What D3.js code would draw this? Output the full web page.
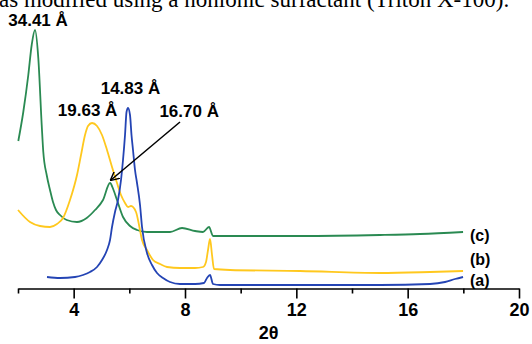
<!DOCTYPE html>
<html>
<head>
<meta charset="utf-8">
<script src="https://cdn.jsdelivr.net/npm/d3@7"></script>
<style>
  html, body { margin: 0; padding: 0; background: #fff; overflow: hidden; }
  svg { display: block; }
</style>
</head>
<body>
<svg id="chart" width="532" height="344"></svg>
<script>
// ---- data (2θ in degrees, intensity in arbitrary units) ----
const angleC = [2.011,2.190,2.370,2.492,2.611,2.729,2.852,2.909,3.031,3.150,3.258,3.365,3.509,3.750,4.120,4.469,4.767,5.054,5.306,5.432,5.557,5.773,6.024,6.276,6.635,7.462,7.893,8.360,8.647,8.863,9.007,10.337,12.133,15.007,16.445,17.990];
const intenC = [148,177,214,244,259,231,164,137,114,99,87,79,74,69,67,71,79,89,106,99,89,72,63,59,57,57,61,58,57,62,53,53,53,54,55,57];

const angleB = [2.000,2.431,2.790,3.150,3.401,3.617,3.868,4.120,4.264,4.408,4.515,4.659,4.839,5.018,5.198,5.378,5.557,5.701,5.845,5.953,6.060,6.240,6.348,6.456,6.635,6.851,7.102,7.354,7.821,8.360,8.647,8.755,8.827,8.899,8.971,9.043,9.618,12.133,15.007,16.804,17.990];
const intenB = [79,67,63,62,65,71,89,114,134,154,163,166,163,154,139,122,106,94,86,82,83,77,64,49,39,29,25,22,21,21,22,27,39,50,34,20,19,18,16,17,18];

const angleA = [3.042,3.509,4.048,4.336,4.587,4.839,5.018,5.198,5.306,5.378,5.485,5.593,5.701,5.773,5.845,5.899,5.953,6.024,6.078,6.132,6.204,6.276,6.384,6.456,6.635,6.815,6.995,7.210,7.462,7.821,8.360,8.683,8.791,8.899,9.007,9.259,12.133,15.007,16.804,17.343,17.702,17.990];
const intenA = [12,11,12,14,17,22,29,39,49,62,77,89,109,129,154,177,181,174,154,139,119,106,84,62,36,24,16,11,7,5,5,6,11,14,5,4,4,4,5,7,10,12];

const seriesNames = ["(a)", "(b)", "(c)"];
const seriesColors = ["#2444b4", "#ffc81e", "#2a8a52"];

const xTicks = [2,4,6,8,10,12,14,16,18,20];
const xTickLabels = ["", "4", "", "8", "", "12", "", "16", "", "20"];

const peakLabels = ["34.41 Å", "19.63 Å", "14.83 Å", "16.70 Å"];
const peakAngle  = [2.72, 4.50, 6.04, 8.15];
const peakInten  = [263, 173, 195, 172];

const arrowFrom = [7.82, 167];
const arrowTo   = [5.34, 109];

const captionText = "as modified using a nonionic surfactant (Triton X-100).";

// ---- scales ----
const svg = d3.select("#chart");
const x = d3.scaleLinear().domain([2, 20]).range([18, 519]);
const y = d3.scaleLinear().domain([0, 260]).range([289, 29]);

const font = "'Liberation Sans', Arial, sans-serif";

// caption (cut off at top, as in the source)
svg.append("text")
  .attr("x", -1).attr("y", 7)
  .attr("font-family", "'Liberation Serif', 'Times New Roman', serif")
  .attr("font-size", 23)
  .attr("fill", "#000")
  .text(captionText);

// curves
const line = d3.line()
  .x(d => x(d[0])).y(d => y(d[1]))
  .curve(d3.curveMonotoneX);

const series = [
  { name: seriesNames[2], color: seriesColors[2], pts: d3.zip(angleC, intenC) },
  { name: seriesNames[1], color: seriesColors[1], pts: d3.zip(angleB, intenB) },
  { name: seriesNames[0], color: seriesColors[0], pts: d3.zip(angleA, intenA) }
];

svg.append("g").selectAll("path").data(series).join("path")
  .attr("d", d => line(d.pts))
  .attr("fill", "none")
  .attr("stroke", d => d.color)
  .attr("stroke-width", 1.8)
  .attr("stroke-linejoin", "round");

// series labels
const lblY = [280, 259, 235];
svg.append("g").selectAll("text").data(seriesNames).join("text")
  .attr("x", 470)
  .attr("y", (d, i) => lblY[i])
  .attr("dy", "0.35em")
  .attr("font-family", font)
  .attr("font-weight", "bold")
  .attr("font-size", 16)
  .attr("fill", "#000")
  .text(d => d);

// x axis
const axis = d3.axisBottom(x)
  .tickValues(xTicks)
  .tickFormat((d, i) => xTickLabels[i])
  .tickSize(10)
  .tickSizeOuter(0)
  .tickPadding(5);

const gx = svg.append("g").attr("transform", "translate(0,288.5)").call(axis);
gx.select(".domain").attr("stroke", "#000").attr("stroke-width", 1.6);
gx.selectAll(".tick line")
  .attr("stroke", "#000").attr("stroke-width", 1.6)
  .attr("y2", (d, i) => xTickLabels[i] ? 10 : 5);
gx.selectAll(".tick text")
  .attr("font-family", font)
  .attr("font-weight", "bold")
  .attr("font-size", 18)
  .attr("fill", "#000");

svg.append("text")
  .attr("x", x(11)).attr("y", 339)
  .attr("text-anchor", "middle")
  .attr("font-family", font)
  .attr("font-weight", "bold")
  .attr("font-size", 18)
  .attr("fill", "#000")
  .text("2θ");

// peak labels
svg.append("g").selectAll("text").data(peakLabels).join("text")
  .attr("x", (d, i) => x(peakAngle[i]))
  .attr("y", (d, i) => y(peakInten[i]))
  .attr("text-anchor", "middle")
  .attr("font-family", font)
  .attr("font-weight", "bold")
  .attr("font-size", 17)
  .attr("fill", "#000")
  .text(d => d);

// arrow
const defs = svg.append("defs");
defs.append("marker")
  .attr("id", "arr")
  .attr("viewBox", "0 0 10 10")
  .attr("refX", 9).attr("refY", 5)
  .attr("markerWidth", 9).attr("markerHeight", 9)
  .attr("markerUnits", "userSpaceOnUse")
  .attr("orient", "auto")
  .append("path")
  .attr("d", "M0,0 L10,5 L0,10")
  .attr("fill", "none")
  .attr("stroke", "#000")
  .attr("stroke-width", 1.6);

svg.append("line")
  .attr("x1", x(arrowFrom[0])).attr("y1", y(arrowFrom[1]))
  .attr("x2", x(arrowTo[0])).attr("y2", y(arrowTo[1]))
  .attr("stroke", "#000")
  .attr("stroke-width", 1.5)
  .attr("marker-end", "url(#arr)");
</script>
</body>
</html>
